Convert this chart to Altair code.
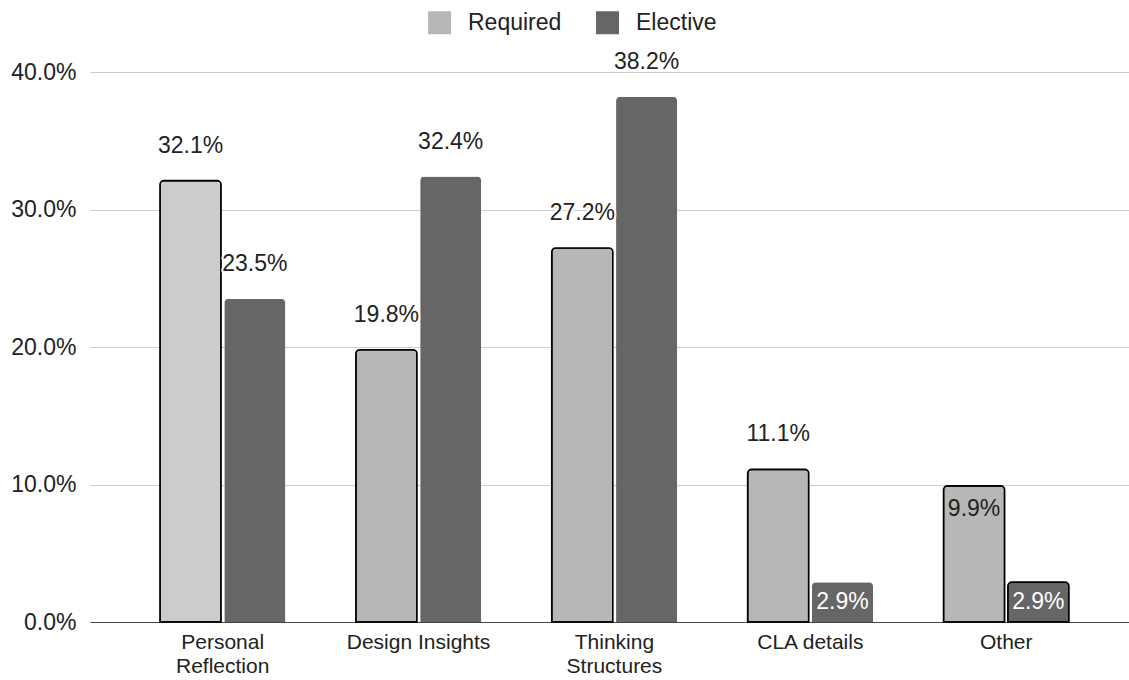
import altair as alt
import pandas as pd

categories = ["Personal Reflection", "Design Insights", "Thinking Structures", "CLA details", "Other"]
series_names = ["Required", "Elective"]
required = [0.321, 0.198, 0.272, 0.111, 0.099]
elective = [0.235, 0.324, 0.382, 0.029, 0.029]
y_ticks = [0.0, 0.1, 0.2, 0.3, 0.4]

rows = []
for c, r, e in zip(categories, required, elective):
    rows.append({"category": c, "series": "Required", "value": r})
    rows.append({"category": c, "series": "Elective", "value": e})
df = pd.DataFrame(rows)

FONT = "Liberation Sans"
FS = 23

x_enc = alt.X("category:N", sort=categories,
              scale=alt.Scale(paddingInner=0.36, paddingOuter=0.332, align=0.538),
              axis=alt.Axis(title=None, labelAngle=0, ticks=False, labelPadding=9,
                            labelFont=FONT, labelFontSize=21, labelColor="#222222",
                            labelLineHeight=24, labelBaseline="top",
                            domainColor="#444444", domainWidth=1, grid=False,
                            labelExpr="indexof(['Personal Reflection','Thinking Structures'], datum.value) >= 0 ? split(datum.value, ' ') : datum.value"))
xoff = alt.XOffset("series:N", sort=series_names,
                   scale=alt.Scale(paddingInner=0.05, paddingOuter=0))
y_enc = alt.Y("value:Q", scale=alt.Scale(domain=[0, 0.4], nice=False),
              axis=alt.Axis(title=None, values=y_ticks, format=".1%", ticks=False, domain=False,
                            labelPadding=14, labelFont=FONT, labelFontSize=FS,
                            labelColor="#222222", gridColor="#cccccc", gridWidth=1))

base = alt.Chart(df)

bars = base.mark_bar(stroke="black", cornerRadiusTopLeft=4, cornerRadiusTopRight=4).encode(
    x=x_enc, xOffset=xoff, y=y_enc,
    fill=alt.condition(
        "datum.category == 'Personal Reflection' && datum.series == 'Required'",
        alt.value("#cccccc"),
        alt.Color("series:N", sort=series_names,
                  scale=alt.Scale(domain=series_names, range=["#b7b7b7", "#666666"]),
                  legend=alt.Legend(title=None, orient="none", direction="horizontal",
                                    legendX=338, legendY=-61, symbolType="square",
                                    symbolSize=529, symbolStrokeWidth=0,
                                    labelFont=FONT, labelFontSize=FS, labelColor="#222222",
                                    labelOffset=17, columnPadding=34, padding=0))),
    strokeWidth=alt.condition("datum.series == 'Required' || datum.category == 'Other'",
                              alt.value(1.6), alt.value(0)),
)

above_filter = "!(datum.value < 0.05) && !(datum.category == 'Other' && datum.series == 'Required')"

def label_layer(filt, dy, color, halo):
    kw = dict(font=FONT, fontSize=FS, dy=dy, baseline="alphabetic", align="center", fill=color)
    if halo:
        kw.update(stroke="white", strokeWidth=4, strokeJoin="round")
    return base.transform_filter(filt).mark_text(**kw).encode(
        x=alt.X("category:N", sort=categories), xOffset=alt.XOffset("series:N", sort=series_names),
        y="value:Q", text=alt.Text("value:Q", format=".1%"))

above_halo = label_layer(above_filter, -28, "white", True)
above = label_layer(above_filter, -28, "#222222", False)
inside_filter = "datum.category == 'Other' && datum.series == 'Required'"
inside = label_layer(inside_filter, 30, "#222222", False)

small_labels = base.transform_filter("datum.value < 0.05").mark_text(
    font=FONT, fontSize=FS, baseline="middle", align="center", fill="white").encode(
    x=alt.X("category:N", sort=categories), xOffset=alt.XOffset("series:N", sort=series_names),
    y=alt.Y("mid:Q"), text=alt.Text("value:Q", format=".1%")
).transform_calculate(mid="datum.value / 2")

chart = alt.layer(bars, above_halo, above, inside, small_labels).properties(
    width=1039, height=550,
    background="white",
    autosize=alt.AutoSizeParams(type="none"),
    padding={"left": 90, "top": 72, "right": 0, "bottom": 58},
).configure_view(strokeWidth=0, strokeOpacity=0)

chart.save("out.html", embed_options={"renderer": "svg", "actions": False})
